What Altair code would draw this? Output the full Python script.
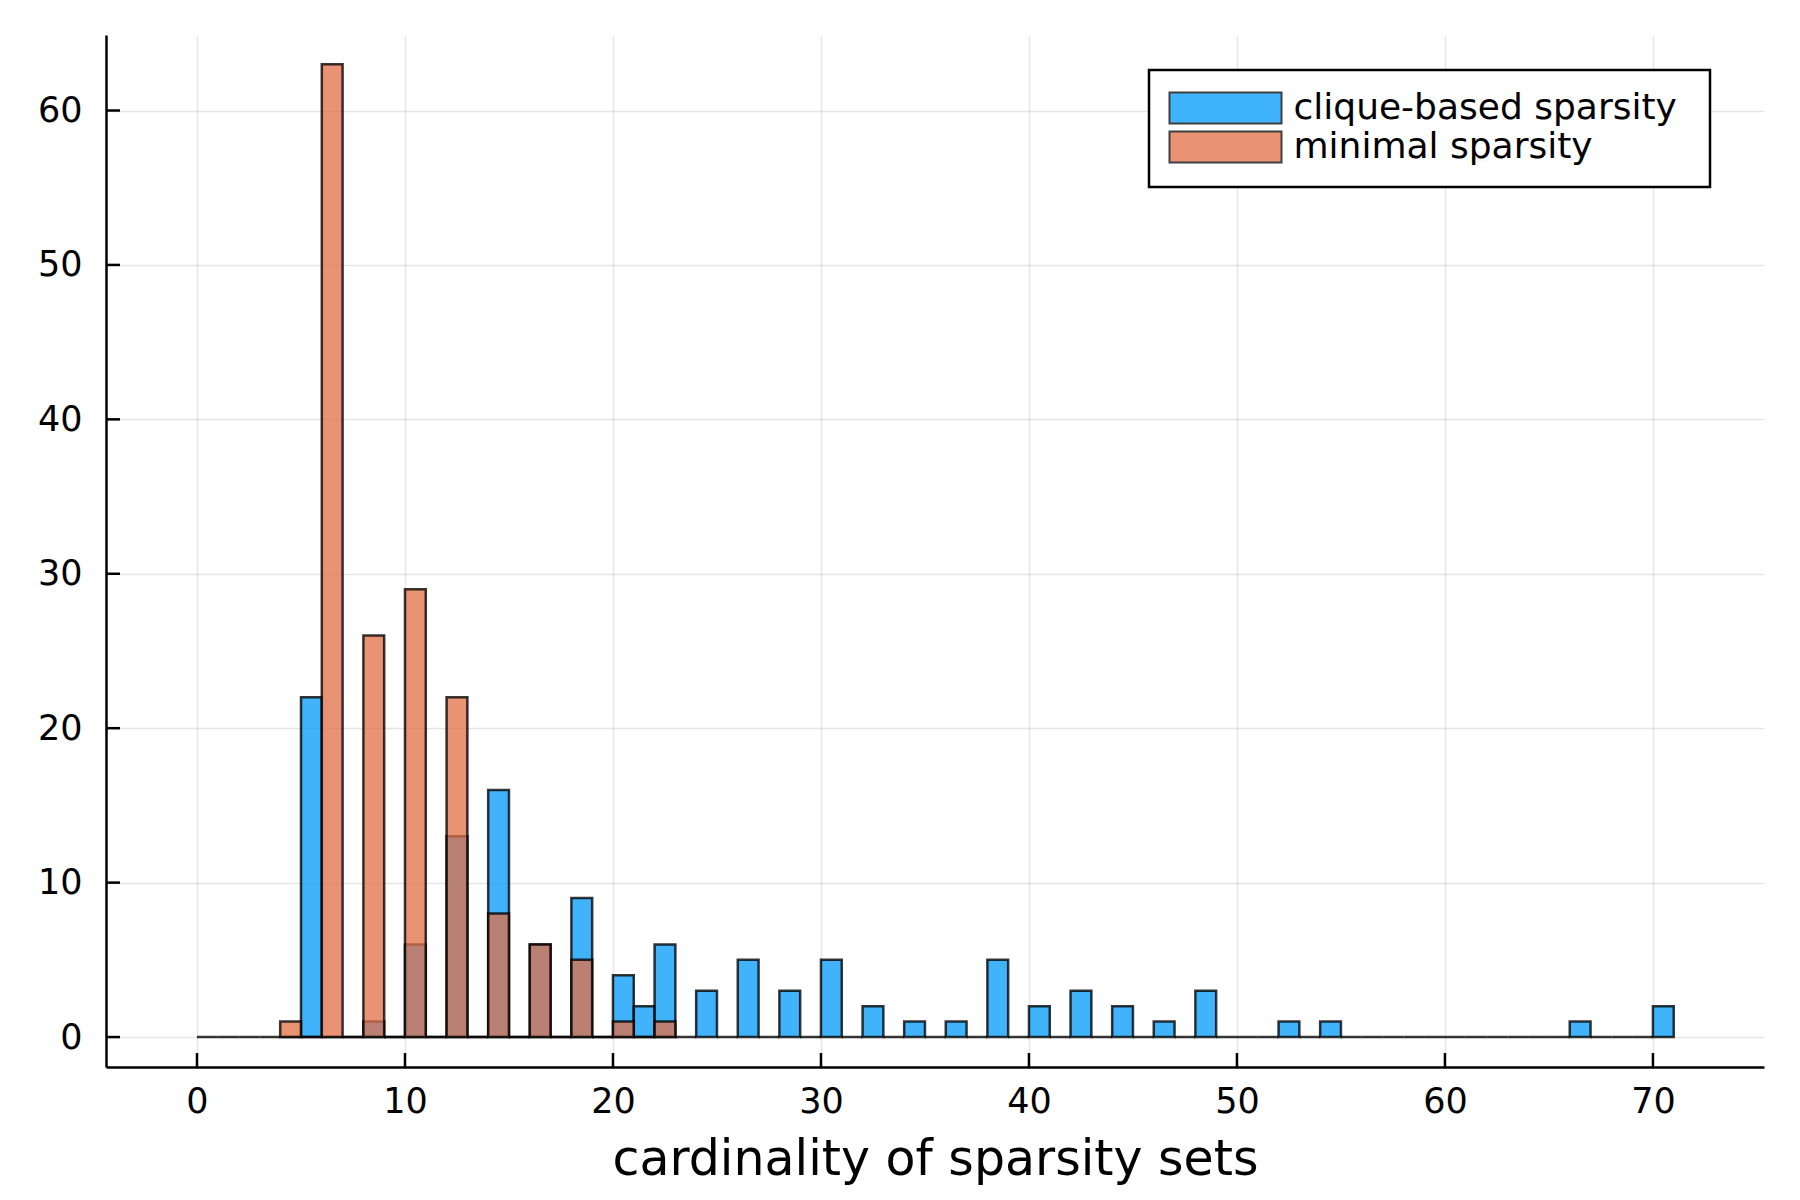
import altair as alt
import pandas as pd

# ---- data ----
series_names = ["clique-based sparsity", "minimal sparsity"]
series_colors = ["#009AFA", "#E26F46"]

# histogram bins of width 1: counts for bins [k, k+1)
clique_first_bin = 0
clique_counts = (
    [0, 0, 0, 0, 0, 22, 0, 0, 1, 0]      # 0-9
    + [6, 0, 13, 0, 16, 0, 6, 0, 9, 0]   # 10-19
    + [4, 2, 6, 0, 3, 0, 5, 0, 3, 0]     # 20-29
    + [5, 0, 2, 0, 1, 0, 1, 0, 5, 0]     # 30-39
    + [2, 0, 3, 0, 2, 0, 1, 0, 3, 0]     # 40-49
    + [0, 0, 1, 0, 1, 0, 0, 0, 0, 0]     # 50-59
    + [0, 0, 0, 0, 0, 0, 1, 0, 0, 0]     # 60-69
    + [2]                                # 70
)

minimal_first_bin = 4
minimal_counts = (
    [1, 0, 63, 0, 26, 0, 29, 0, 22, 0]   # 4-13
    + [8, 0, 6, 0, 5, 0, 1, 0, 1]        # 14-22
)

x_tick_values = [0, 10, 20, 30, 40, 50, 60, 70]
y_tick_values = [0, 10, 20, 30, 40, 50, 60]
x_title = "cardinality of sparsity sets"


def hist_frame(name, first, counts):
    starts = [first + i for i in range(len(counts))]
    return pd.DataFrame({
        "series": name,
        "start": starts,
        "end": [s + 1 for s in starts],
        "count": counts,
        "base": [0] * len(counts),
    })


df_clique = hist_frame(series_names[0], clique_first_bin, clique_counts)
df_minimal = hist_frame(series_names[1], minimal_first_bin, minimal_counts)

# ---- layout ----
W, H = 1658, 1032
FONT = "DejaVu Sans"

xscale = alt.Scale(domain=[-4.375, 75.34], nice=False, zero=False)
yscale = alt.Scale(domain=[-1.94, 64.89], nice=False, zero=False)

color = alt.Color(
    "series:N",
    scale=alt.Scale(domain=series_names, range=series_colors),
    legend=alt.Legend(
        title=None,
        orient="none",
        legendX=1043,
        legendY=35,
        direction="vertical",
        symbolType="M-3.613,-1H3.613V1H-3.613ZM29.65,0",
        symbolSize=961,
        symbolStrokeColor="black",
        symbolStrokeWidth=2,
        symbolOpacity=0.75,
        symbolOffset=38.5,
        labelOffset=50,
        labelFont=FONT,
        labelFontSize=36,
        labelColor="black",
        labelLimit=1000,
        rowPadding=-1,
        padding=20,
        strokeColor="black",
        fillColor="white",
    ),
)

x_axis = alt.Axis(
    values=x_tick_values,
    format="d",
    title=x_title,
    titleBaseline="alphabetic",
    titleY=107,
    labelPadding=17,
    labelFlush=False,
)
y_axis = alt.Axis(
    values=y_tick_values,
    format="d",
    title=None,
    labelPadding=24,
)

x_enc = alt.X("start:Q", scale=xscale, axis=x_axis)
y_enc = alt.Y("count:Q", scale=yscale, axis=y_axis)

bar_style = dict(fillOpacity=0.75, stroke="black", strokeOpacity=0.78, strokeWidth=2.5)

clique_layer = alt.Chart(df_clique).mark_rect(**bar_style).encode(
    x=x_enc, x2="end:Q", y=y_enc, y2="base:Q", color=color
)
minimal_layer = alt.Chart(df_minimal).mark_rect(**bar_style).encode(
    x=x_enc, x2="end:Q", y=y_enc, y2="base:Q", color=color
)

x_ticks = alt.Chart(pd.DataFrame({"start": x_tick_values})).mark_rule(
    color="black", strokeWidth=2.5
).encode(
    x=x_enc,
    y=alt.value(H),
    y2=alt.value(H - 14),
)
y_ticks = alt.Chart(pd.DataFrame({"count": y_tick_values})).mark_rule(
    color="black", strokeWidth=2.5
).encode(
    y=y_enc,
    x=alt.value(0),
    x2=alt.value(14),
)

chart = (
    alt.layer(clique_layer, minimal_layer, x_ticks, y_ticks)
    .properties(
        width=W,
        height=H,
        padding={"left": 98, "top": 27, "right": 28, "bottom": 125},
        autosize=alt.AutoSizeParams(type="none"),
        background="white",
    )
    .configure_view(stroke=None)
    .configure_axis(
        ticks=False,
        domainColor="black",
        domainWidth=2.5,
        grid=True,
        gridColor="#000000",
        gridOpacity=0.1,
        gridWidth=1.5,
        labelFont=FONT,
        labelFontSize=35,
        labelColor="black",
        titleFont=FONT,
        titleFontSize=49,
        titleFontWeight="normal",
        titleColor="black",
    )
    .configure_legend(strokeWidth=2.5)
)

chart.save("out.html", embed_options={"renderer": "svg", "actions": False})
